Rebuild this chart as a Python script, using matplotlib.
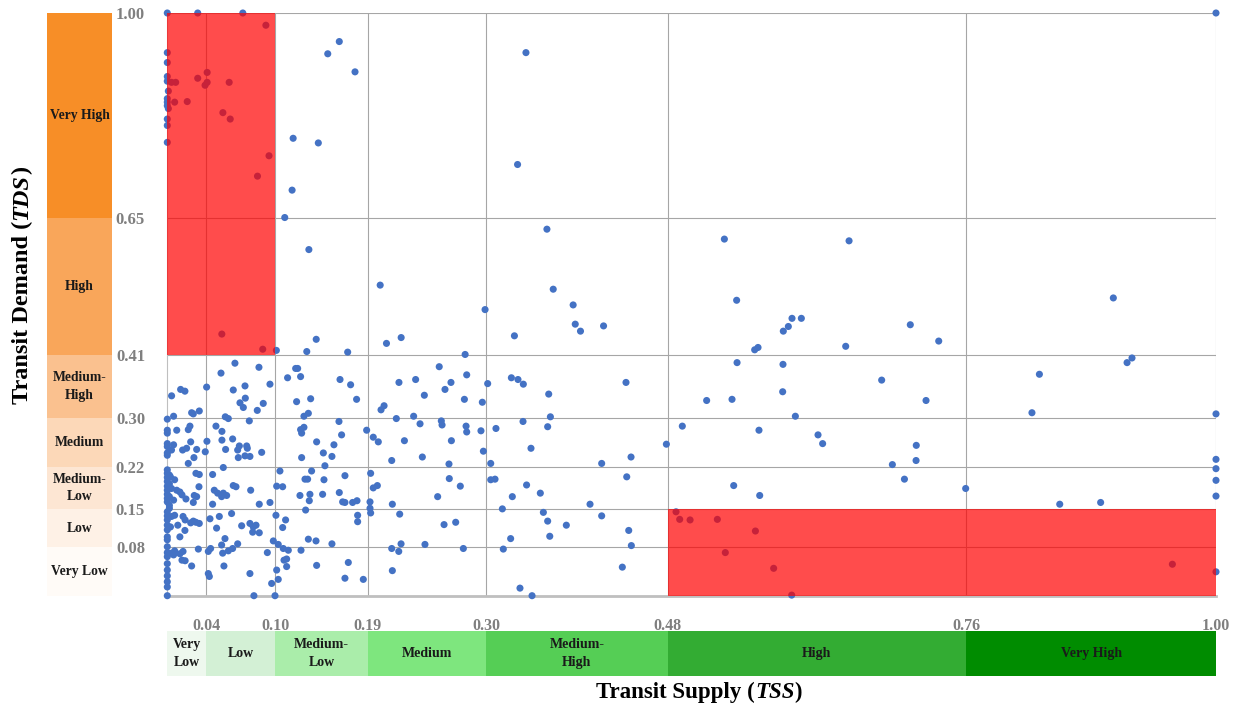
import matplotlib
matplotlib.use("Agg")
import matplotlib.pyplot as plt
import numpy as np

# class breaks (TSS along x, TDS along y) and their printed labels
tss_breaks = [0.0, 0.037, 0.103, 0.191, 0.304, 0.477, 0.762, 1.0]
tss_labels = ["0.04", "0.10", "0.19", "0.30", "0.48", "0.76", "1.00"]
tds_breaks = [0.0, 0.083, 0.148, 0.2215, 0.3045, 0.413, 0.648, 1.0]
tds_labels = ["0.08", "0.15", "0.22", "0.30", "0.41", "0.65", "1.00"]

tss_classes = ["Very\nLow", "Low", "Medium-\nLow", "Medium", "Medium-\nHigh", "High", "Very High"]
tds_classes = ["Very Low", "Low", "Medium-\nLow", "Medium", "Medium-\nHigh", "High", "Very High"]
green_colors = ["#EEF8EE", "#D3F0D5", "#AAEDAA", "#7EE67E", "#55CE55", "#33AC33", "#008C00"]
orange_colors = ["#FFFBF7", "#FEF1E6", "#FDE6D3", "#FCD8B8", "#FAC18F", "#F9A65A", "#F78E27"]

# points, (TSS, TDS)
pts_edge = [(0, 1.0), (0, 0.932), (0, 0.915), (0, 0.891), (0, 0.883), (0.001, 0.866), (0, 0.853),
            (0, 0.847), (0, 0.841), (0.001, 0.836), (0, 0.818), (0, 0.807), (0, 0.778),
            (0, 0.303), (0, 0.284), (0, 0.279), (0, 0.261), (0, 0.256), (0, 0.245), (0, 0.241),
            (0, 0.216), (0, 0.210), (0, 0.203), (0, 0.196), (0, 0.188), (0, 0.181), (0, 0.174),
            (0, 0.167), (0, 0.161), (0, 0.144), (0, 0.137), (0, 0.130), (0, 0.121), (0, 0.113),
            (0, 0.101), (0, 0.096), (0, 0.084), (0, 0.074), (0, 0.067), (0, 0.055), (0, 0.044),
            (0, 0.034), (0, 0.024), (0, 0.015), (0, 0.0), (0.002, 0.207), (0.002, 0.192),
            (0.002, 0.185), (0.002, 0.170), (0.002, 0.155), (0.002, 0.150)]

pts_near_edge = [(0.006, 0.308), (0.006, 0.259), (0.004, 0.250), (0.003, 0.204), (0.007, 0.199),
                 (0.004, 0.184), (0.009, 0.181), (0.012, 0.178), (0.014, 0.173), (0.006, 0.164),
                 (0.004, 0.136), (0.007, 0.138), (0.015, 0.136), (0.017, 0.130), (0.010, 0.121),
                 (0.003, 0.118), (0.007, 0.077), (0.004, 0.073), (0.006, 0.070), (0.012, 0.072),
                 (0.015, 0.076), (0.014, 0.061), (0.017, 0.060), (0.009, 0.284), (0.012, 0.101),
                 (0.0127, 0.354), (0.0168, 0.351), (0.0041, 0.343)]

pts_upper = [(0.029, 1.0), (0.072, 1.0), (0.094, 0.979), (0.004, 0.881), (0.008, 0.881), (0.029, 0.888),
             (0.038, 0.898), (0.038, 0.881), (0.036, 0.876), (0.059, 0.881), (0.007, 0.847),
             (0.019, 0.848), (0.053, 0.829), (0.060, 0.818), (0.153, 0.930), (0.164, 0.951),
             (0.179, 0.899), (0.120, 0.785), (0.144, 0.777), (0.097, 0.755), (0.086, 0.720),
             (0.119, 0.696), (0.112, 0.649), (0.135, 0.594), (0.203, 0.533), (0.052, 0.449),
             (0.142, 0.440), (0.223, 0.443), (0.209, 0.433), (0.091, 0.423), (0.104, 0.421),
             (0.133, 0.419), (0.172, 0.418), (0.342, 0.932), (0.334, 0.740), (0.362, 0.629),
             (0.368, 0.526), (0.387, 0.499), (0.389, 0.466), (0.394, 0.454), (0.416, 0.463),
             (0.303, 0.491), (0.331, 0.446), (0.284, 0.414)]

pts_low_left = [(0.0645, 0.399), (0.0512, 0.382), (0.0874, 0.392), (0.1224, 0.390), (0.1243, 0.390),
                (0.1147, 0.374), (0.1271, 0.376), (0.1647, 0.371), (0.1748, 0.362), (0.0979, 0.363),
                (0.0741, 0.360), (0.0375, 0.358), (0.0629, 0.353), (0.1233, 0.333), (0.1367, 0.338),
                (0.1805, 0.337), (0.0693, 0.331), (0.0744, 0.339), (0.0915, 0.330), (0.0725, 0.323),
                (0.0858, 0.318), (0.0232, 0.314), (0.0305, 0.317), (0.0248, 0.312), (0.1303, 0.308),
                (0.1345, 0.313), (0.0553, 0.307), (0.0582, 0.304), (0.0782, 0.300), (0.1637, 0.299),
                (0.0216, 0.291), (0.0200, 0.285), (0.0464, 0.291), (0.0521, 0.282), (0.1303, 0.289),
                (0.1271, 0.285), (0.1281, 0.279), (0.1901, 0.284), (0.1662, 0.276), (0.1964, 0.272),
                (0.2012, 0.264), (0.0623, 0.269), (0.0521, 0.267), (0.0378, 0.265), (0.0223, 0.264),
                (0.1424, 0.264), (0.0146, 0.250), (0.0184, 0.253), (0.0280, 0.251), (0.0362, 0.247),
                (0.0556, 0.251), (0.0687, 0.257), (0.0757, 0.257), (0.0763, 0.253), (0.0671, 0.250),
                (0.0677, 0.237), (0.0900, 0.246), (0.0741, 0.240), (0.0788, 0.239), (0.0254, 0.237),
                (0.1488, 0.245), (0.1589, 0.259), (0.1281, 0.237), (0.1570, 0.239), (0.0200, 0.227),
                (0.0534, 0.220), (0.1503, 0.223), (0.0273, 0.210), (0.0305, 0.208), (0.0432, 0.208),
                (0.1074, 0.214), (0.1313, 0.200), (0.1338, 0.200), (0.1376, 0.214), (0.1494, 0.199),
                (0.1694, 0.206), (0.1939, 0.210), (0.0629, 0.189), (0.0655, 0.187), (0.0795, 0.181),
                (0.0302, 0.187), (0.0448, 0.181), (0.0480, 0.176), (0.0534, 0.176), (0.0566, 0.172),
                (0.0518, 0.170), (0.0257, 0.172), (0.0280, 0.170), (0.1043, 0.188), (0.1100, 0.187),
                (0.1265, 0.172), (0.1360, 0.174), (0.1481, 0.174), (0.1640, 0.177), (0.1672, 0.161),
                (0.1694, 0.160), (0.1767, 0.160), (0.1809, 0.163), (0.1354, 0.163), (0.1319, 0.147),
                (0.1933, 0.161), (0.1964, 0.185), (0.2003, 0.189), (0.0979, 0.160), (0.0877, 0.157),
                (0.0432, 0.157), (0.0248, 0.160), (0.0178, 0.166), (0.1933, 0.150), (0.1939, 0.142),
                (0.0223, 0.125), (0.0248, 0.128), (0.0273, 0.126), (0.0305, 0.124), (0.0407, 0.132),
                (0.0496, 0.136), (0.0613, 0.141), (0.0709, 0.120), (0.0788, 0.124), (0.0820, 0.118),
                (0.0846, 0.121), (0.0814, 0.109), (0.0877, 0.108), (0.1036, 0.138), (0.1128, 0.130),
                (0.1100, 0.117), (0.1815, 0.138), (0.1815, 0.127), (0.0168, 0.112), (0.0470, 0.116),
                (0.0550, 0.098), (0.0671, 0.089), (0.0623, 0.081), (0.0582, 0.077), (0.0528, 0.073),
                (0.0518, 0.087), (0.0413, 0.081), (0.0391, 0.076), (0.0296, 0.080), (0.1011, 0.094),
                (0.1058, 0.088), (0.1106, 0.081), (0.1154, 0.078), (0.1275, 0.078), (0.1345, 0.097),
                (0.1418, 0.094), (0.1570, 0.089), (0.0954, 0.074), (0.0232, 0.051), (0.0540, 0.051),
                (0.0391, 0.038), (0.0401, 0.033), (0.0788, 0.038), (0.1043, 0.044), (0.1138, 0.063),
                (0.1113, 0.061), (0.1138, 0.050), (0.1058, 0.028), (0.0995, 0.021), (0.1424, 0.052),
                (0.1726, 0.057), (0.1694, 0.030), (0.1869, 0.028), (0.0826, 0.0), (0.1027, 0.0)]

pts_low_mid = [(0.2593, 0.393), (0.2855, 0.379), (0.2209, 0.366), (0.2368, 0.371), (0.2705, 0.366),
               (0.2648, 0.354), (0.2451, 0.344), (0.2833, 0.337), (0.3004, 0.332), (0.3055, 0.364),
               (0.3281, 0.374), (0.3344, 0.371), (0.3395, 0.363), (0.3637, 0.346), (0.4374, 0.366),
               (0.2067, 0.326), (0.2038, 0.319), (0.2184, 0.304), (0.2349, 0.308), (0.2410, 0.295),
               (0.2613, 0.300), (0.2620, 0.293), (0.2849, 0.291), (0.2855, 0.281), (0.2991, 0.283),
               (0.3134, 0.287), (0.3392, 0.299), (0.3653, 0.307), (0.3627, 0.290), (0.2261, 0.266),
               (0.2709, 0.266), (0.3014, 0.248), (0.3468, 0.253), (0.4759, 0.260), (0.4422, 0.238),
               (0.2140, 0.232), (0.2432, 0.238), (0.2686, 0.226), (0.3084, 0.227), (0.4142, 0.227),
               (0.4381, 0.204), (0.2689, 0.201), (0.2794, 0.188), (0.3084, 0.199), (0.3125, 0.200),
               (0.3426, 0.190), (0.3557, 0.176), (0.3290, 0.170), (0.2578, 0.170), (0.2146, 0.157),
               (0.4031, 0.157), (0.2216, 0.140), (0.3195, 0.149), (0.3586, 0.143), (0.3627, 0.128),
               (0.3805, 0.121), (0.4142, 0.137), (0.2639, 0.122), (0.2750, 0.126), (0.4400, 0.112),
               (0.4425, 0.086), (0.3647, 0.102), (0.3274, 0.098), (0.2229, 0.089), (0.2140, 0.081),
               (0.2207, 0.076), (0.2457, 0.088), (0.2823, 0.081), (0.3204, 0.080), (0.4339, 0.049),
               (0.2146, 0.043), (0.3363, 0.013), (0.3478, 0.0)]

pts_right = [(0.5312, 0.612), (0.6501, 0.609), (0.5429, 0.507), (0.5957, 0.476), (0.6046, 0.476),
             (0.5922, 0.462), (0.5874, 0.454), (0.7085, 0.465), (0.7356, 0.437), (0.6469, 0.428),
             (0.5601, 0.422), (0.5633, 0.426), (0.5433, 0.400), (0.5871, 0.397), (0.6812, 0.370),
             (0.5868, 0.350), (0.5143, 0.335), (0.5385, 0.337), (0.7235, 0.335), (0.5989, 0.308),
             (0.4911, 0.291), (0.5642, 0.284), (0.6205, 0.276), (0.6249, 0.261), (0.7142, 0.258),
             (0.6914, 0.225), (0.7140, 0.232), (0.7029, 0.200), (0.5401, 0.189), (0.5649, 0.172),
             (0.4851, 0.144), (0.4886, 0.131), (0.4985, 0.130), (0.5245, 0.131), (0.5608, 0.111),
             (0.5321, 0.074), (0.5782, 0.047), (0.5954, 0.001), (0.9021, 0.511), (0.9152, 0.400),
             (0.9199, 0.408), (0.8316, 0.380), (0.8245, 0.314), (1.0, 0.312), (1.0, 0.234),
             (1.0, 0.218), (1.0, 0.198), (1.0, 0.171), (0.7613, 0.184), (0.8510, 0.157),
             (0.8900, 0.160), (0.9584, 0.054), (1.0, 0.041), (1.0, 1.0)]

SERIF = "Liberation Serif"
W, H = 1241, 706

fig = plt.figure(figsize=(W / 100, H / 100), dpi=100)

# main scatter
ax = fig.add_axes([167.3 / W, (H - 595.7) / H, 1048.7 / W, 582.7 / H])
ax.set_xlim(0, 1)
ax.set_ylim(0, 1)

for xb in tss_breaks[1:]:
    ax.axvline(xb, color="#A6A6A6", lw=0.8, zorder=1)
for yb in tds_breaks[1:]:
    ax.axhline(yb, color="#A6A6A6", lw=0.8, zorder=1)

all_pts = np.array(pts_edge + pts_near_edge + pts_upper + pts_low_left + pts_low_mid + pts_right)
ax.scatter(all_pts[:, 0], all_pts[:, 1], s=26, color="#4472C4", edgecolors="none",
           zorder=3, clip_on=False)

# mismatch zones: high demand / low supply and low demand / high supply
ax.add_patch(plt.Rectangle((0, tds_breaks[5]), tss_breaks[2], 1 - tds_breaks[5],
                           facecolor="#FF0000", alpha=0.7, lw=0, zorder=4))
ax.add_patch(plt.Rectangle((tss_breaks[5], 0), 1 - tss_breaks[5], tds_breaks[2],
                           facecolor="#FF0000", alpha=0.7, lw=0, zorder=4))

for side in ["top", "right"]:
    ax.spines[side].set_visible(False)
ax.spines["left"].set_color("#BFBFBF")
ax.spines["left"].set_linewidth(0.8)
ax.spines["bottom"].set_color("#BFBFBF")
ax.spines["bottom"].set_linewidth(2)

ax.set_xticks(tss_breaks[1:])
ax.set_xticklabels(tss_labels, fontfamily=SERIF, fontweight="bold", fontsize=11.5, color="#7F7F7F")
ax.set_yticks(tds_breaks[1:])
ax.set_yticklabels(tds_labels, fontfamily=SERIF, fontweight="bold", fontsize=12, color="#7F7F7F")
ax.tick_params(axis="x", length=0, pad=16)
ax.tick_params(axis="y", length=0, pad=16)

# orange TDS class bar on the left
ax_o = fig.add_axes([47 / W, (H - 595.7) / H, 65 / W, 582.7 / H])
ax_o.set_xlim(0, 1)
ax_o.set_ylim(0, 1)
for i, name in enumerate(tds_classes):
    lo, hi = tds_breaks[i], tds_breaks[i + 1]
    ax_o.bar(0.5, hi - lo, bottom=lo, width=1, color=orange_colors[i], lw=0)
    ax_o.text(0.5, (lo + hi) / 2, name, ha="center", va="center", fontfamily=SERIF,
              fontweight="bold", fontsize=9.8, color="#1a1a1a", linespacing=1.45)
ax_o.axis("off")

# green TSS class bar at the bottom
ax_g = fig.add_axes([167.3 / W, 30 / H, 1048.7 / W, 45 / H])
ax_g.set_xlim(0, 1)
ax_g.set_ylim(0, 1)
for i, name in enumerate(tss_classes):
    lo, hi = tss_breaks[i], tss_breaks[i + 1]
    ax_g.barh(0.5, hi - lo, left=lo, height=1, color=green_colors[i], lw=0)
    ax_g.text((lo + hi) / 2, 0.5, name, ha="center", va="center", fontfamily=SERIF,
              fontweight="bold", fontsize=10, color="#1a1a1a", linespacing=1.45)
ax_g.axis("off")


def mixed_title(x, y, parts, size, rotation=0):
    # bold text with an italic part, laid out piece by piece
    r = fig.canvas.get_renderer()
    objs = []
    for s, style in parts:
        objs.append(fig.text(0, 0, s, fontsize=size, fontweight="bold", fontstyle=style,
                             fontfamily=SERIF, rotation=rotation, rotation_mode="anchor",
                             ha="left", va="center"))
    sizes = []
    for t in objs:
        bb = t.get_window_extent(r)
        sizes.append(bb.width if rotation == 0 else bb.height)
    if rotation == 0:
        pos = x * W - sum(sizes) / 2
        for t, w in zip(objs, sizes):
            t.set_position((pos / W, y))
            pos += w
    else:
        pos = y * H - sum(sizes) / 2
        for t, h in zip(objs, sizes):
            t.set_position((x, pos / H))
            pos += h


mixed_title(699 / W, 1 - 692 / H, [("Transit Supply (", "normal"), ("TSS", "italic"), (")", "normal")], 16.5)
mixed_title(22 / W, 1 - 285 / H, [("Transit Demand (", "normal"), ("TDS", "italic"), (")", "normal")], 17.5, rotation=90)

fig.savefig("out.png", dpi=100)
